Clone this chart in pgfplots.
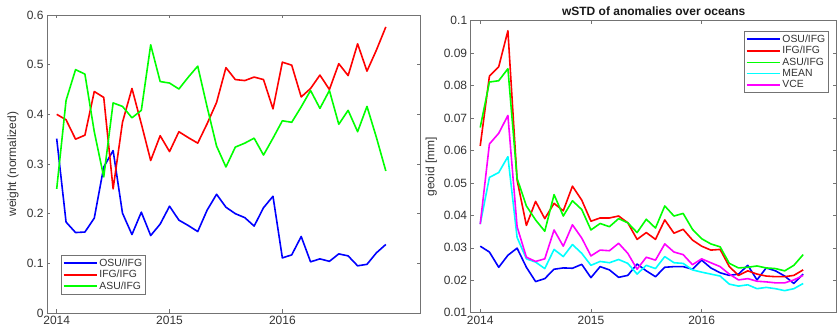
\documentclass[border=0pt]{standalone}
\usepackage{pgfplots}
\pgfplotsset{compat=1.18}
\usepackage{pgfplotstable}
\usepackage{fontspec}
\setmainfont{Liberation Sans}

\definecolor{axgray}{gray}{0.45}
\definecolor{txtgray}{gray}{0.2}
\definecolor{cB}{rgb}{0,0,1}
\definecolor{cR}{rgb}{1,0,0}
\definecolor{cG}{rgb}{0,1,0}
\definecolor{cC}{rgb}{0,1,1}
\definecolor{cM}{rgb}{1,0,1}

\pgfplotstableread{
t osu ifg asu
2014.000 0.351 0.400 0.250
2014.083 0.183 0.389 0.428
2014.167 0.162 0.350 0.490
2014.250 0.163 0.358 0.481
2014.333 0.191 0.446 0.365
2014.417 0.294 0.434 0.274
2014.500 0.327 0.250 0.423
2014.583 0.201 0.384 0.416
2014.667 0.158 0.452 0.393
2014.750 0.203 0.381 0.408
2014.833 0.156 0.307 0.540
2014.917 0.179 0.357 0.466
2015.000 0.215 0.325 0.463
2015.083 0.187 0.365 0.451
2015.167 0.176 0.353 0.475
2015.250 0.164 0.342 0.497
2015.333 0.207 0.381 0.415
2015.417 0.239 0.424 0.336
2015.500 0.213 0.494 0.294
2015.583 0.200 0.470 0.334
2015.667 0.192 0.468 0.342
2015.750 0.175 0.475 0.352
2015.833 0.212 0.470 0.318
2015.917 0.235 0.411 0.352
2016.000 0.111 0.505 0.387
2016.083 0.117 0.499 0.384
2016.167 0.154 0.435 0.415
2016.250 0.103 0.452 0.448
2016.333 0.109 0.479 0.412
2016.417 0.104 0.450 0.448
2016.500 0.119 0.502 0.380
2016.583 0.115 0.478 0.408
2016.667 0.095 0.542 0.365
2016.750 0.098 0.487 0.416
2016.833 0.121 0.529 0.354
2016.917 0.138 0.576 0.286
}\weights

\pgfplotstableread{
t osu ifg asu mean vce
2014.000 0.0305 0.0614 0.0671 0.0373 0.0373
2014.083 0.0287 0.0829 0.0811 0.0517 0.0620
2014.167 0.0240 0.0858 0.0815 0.0532 0.0653
2014.250 0.0277 0.0969 0.0852 0.0581 0.0708
2014.333 0.0299 0.0509 0.0514 0.0332 0.0365
2014.417 0.0240 0.0369 0.0429 0.0266 0.0271
2014.500 0.0196 0.0443 0.0386 0.0256 0.0258
2014.583 0.0205 0.0390 0.0351 0.0236 0.0266
2014.667 0.0234 0.0437 0.0464 0.0295 0.0355
2014.750 0.0238 0.0414 0.0398 0.0273 0.0305
2014.833 0.0237 0.0490 0.0445 0.0310 0.0371
2014.917 0.0249 0.0447 0.0418 0.0283 0.0330
2015.000 0.0208 0.0382 0.0355 0.0246 0.0275
2015.083 0.0242 0.0392 0.0375 0.0258 0.0293
2015.167 0.0232 0.0392 0.0365 0.0254 0.0291
2015.250 0.0209 0.0398 0.0390 0.0264 0.0314
2015.333 0.0215 0.0377 0.0377 0.0252 0.0283
2015.417 0.0250 0.0326 0.0347 0.0219 0.0234
2015.500 0.0229 0.0347 0.0388 0.0246 0.0271
2015.583 0.0211 0.0326 0.0361 0.0236 0.0262
2015.667 0.0240 0.0386 0.0429 0.0273 0.0312
2015.750 0.0242 0.0345 0.0398 0.0254 0.0287
2015.833 0.0242 0.0357 0.0406 0.0252 0.0279
2015.917 0.0234 0.0324 0.0357 0.0232 0.0248
2016.000 0.0262 0.0305 0.0328 0.0225 0.0266
2016.083 0.0238 0.0293 0.0312 0.0219 0.0254
2016.167 0.0223 0.0295 0.0303 0.0213 0.0242
2016.250 0.0215 0.0242 0.0252 0.0188 0.0219
2016.333 0.0219 0.0215 0.0238 0.0182 0.0201
2016.417 0.0246 0.0229 0.0240 0.0186 0.0205
2016.500 0.0201 0.0219 0.0244 0.0174 0.0197
2016.583 0.0238 0.0213 0.0238 0.0178 0.0195
2016.667 0.0229 0.0211 0.0236 0.0174 0.0192
2016.750 0.0213 0.0211 0.0229 0.0168 0.0192
2016.833 0.0190 0.0215 0.0246 0.0174 0.0201
2016.917 0.0219 0.0232 0.0279 0.0190 0.0215
}\wstd

\pgfplotsset{mystyle/.style={
  scale only axis,
  xmin=2013.914, xmax=2017.22,
  xtick={2014,2015,2016}, xticklabels={2014,2015,2016},
  tick align=inside, tick pos=both, major tick length=3.5pt,
  axis line style={axgray, line width=0.6pt},
  every tick/.style={axgray, line width=0.6pt},
  tick label style={font=\fontsize{12}{14}\selectfont, text=txtgray},
  label style={font=\fontsize{12}{14}\selectfont, text=txtgray},
  legend cell align=left,
  legend style={draw=axgray, line width=0.6pt, font=\fontsize{10.4}{12}\selectfont, text=txtgray, inner sep=1.5pt, row sep=-1.5pt},
  legend image code/.code={\draw[#1, line width=1.6pt] (0pt,0pt) -- (33pt,0pt);},
}}

\begin{document}
\begin{tikzpicture}
\useasboundingbox (0,0) rectangle (837pt,329pt);

\begin{axis}[mystyle,
  at={(47pt,16pt)}, anchor=south west,
  width=373pt, height=298pt,
  ymin=0, ymax=0.6,
  ytick={0,0.1,0.2,0.3,0.4,0.5,0.6},
  yticklabels={0,0.1,0.2,0.3,0.4,0.5,0.6},
  ylabel={weight (normalized)},
  ylabel style={at={(axis description cs:-0.091,0.5)}, anchor=center},
  legend style={at={(axis description cs:0.0375,0.195)}, anchor=north west},
]
\addplot[cB, line width=1.6pt, line join=round, no markers] table[x=t, y=osu] {\weights};
\addplot[cR, line width=1.6pt, line join=round, no markers] table[x=t, y=ifg] {\weights};
\addplot[cG, line width=1.6pt, line join=round, no markers] table[x=t, y=asu] {\weights};
\legend{OSU/IFG, IFG/IFG, ASU/IFG}
\end{axis}

\begin{axis}[mystyle,
  at={(470.7pt,16.3pt)}, anchor=south west,
  width=366pt, height=292pt,
  ymin=0.01, ymax=0.1,
  ytick={0.01,0.02,0.03,0.04,0.05,0.06,0.07,0.08,0.09,0.1},
  yticklabels={0.01,0.02,0.03,0.04,0.05,0.06,0.07,0.08,0.09,0.1},
  ylabel={geoid [mm]},
  ylabel style={at={(axis description cs:-0.108,0.5)}, anchor=center},
  title={wSTD of anomalies over oceans},
  title style={at={(0.5,1)}, anchor=south, font=\bfseries\fontsize{12}{14}\selectfont, text=black!90, inner sep=1pt, yshift=-2.5pt},
  legend style={at={(axis description cs:0.979,0.965)}, anchor=north east},
]
\addplot[cB, line width=1.6pt, line join=round, no markers] table[x=t, y=osu] {\wstd};
\addplot[cR, line width=1.6pt, line join=round, no markers] table[x=t, y=ifg] {\wstd};
\addplot[cG, line width=1.6pt, line join=round, no markers] table[x=t, y=asu] {\wstd};
\addplot[cC, line width=1.6pt, line join=round, no markers] table[x=t, y=mean] {\wstd};
\addplot[cM, line width=1.6pt, line join=round, no markers] table[x=t, y=vce] {\wstd};
\legend{OSU/IFG, IFG/IFG, ASU/IFG, MEAN, VCE}
\end{axis}
\end{tikzpicture}
\end{document}
